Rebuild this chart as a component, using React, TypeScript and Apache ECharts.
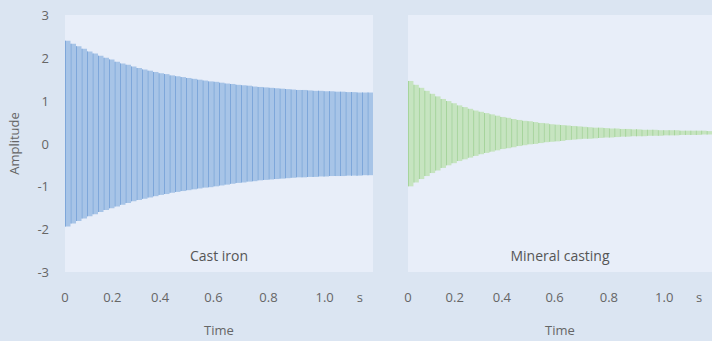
import React, { useEffect, useRef } from "react";
import * as echarts from "echarts";

// Bar slots along time (each bar = one slot)
const SLOTS = 56;

// Cast iron envelope (upper / lower amplitude of each bar)
const castIronHigh = [
  2.40, 2.33, 2.27, 2.21, 2.15, 2.10, 2.05, 2.00, 1.96, 1.91,
  1.87, 1.84, 1.80, 1.76, 1.73, 1.70, 1.67, 1.64, 1.62, 1.59,
  1.57, 1.55, 1.53, 1.51, 1.49, 1.47, 1.45, 1.44, 1.42, 1.40,
  1.39, 1.37, 1.36, 1.35, 1.33, 1.32, 1.31, 1.30, 1.29, 1.28,
  1.27, 1.26, 1.25, 1.25, 1.24, 1.23, 1.23, 1.22, 1.22, 1.21,
  1.21, 1.20, 1.20, 1.19, 1.19, 1.19,
];
const castIronLow = [
  -1.94, -1.87, -1.81, -1.75, -1.70, -1.65, -1.60, -1.55, -1.51, -1.47,
  -1.43, -1.39, -1.35, -1.32, -1.29, -1.26, -1.23, -1.20, -1.18, -1.15,
  -1.13, -1.11, -1.09, -1.07, -1.05, -1.03, -1.02, -1.00, -0.98, -0.96,
  -0.94, -0.92, -0.91, -0.89, -0.88, -0.86, -0.85, -0.84, -0.83, -0.82,
  -0.81, -0.80, -0.79, -0.79, -0.78, -0.78, -0.77, -0.77, -0.76, -0.76,
  -0.76, -0.75, -0.75, -0.75, -0.74, -0.74,
];

// Mineral casting envelope
const mineralHigh = [
  1.46, 1.37, 1.30, 1.23, 1.16, 1.10, 1.04, 0.99, 0.94, 0.89,
  0.85, 0.81, 0.77, 0.74, 0.71, 0.68, 0.65, 0.62, 0.60, 0.57,
  0.55, 0.53, 0.52, 0.50, 0.48, 0.47, 0.45, 0.44, 0.43, 0.42,
  0.41, 0.40, 0.39, 0.38, 0.37, 0.37, 0.36, 0.35, 0.35, 0.34,
  0.34, 0.33, 0.33, 0.32, 0.32, 0.32, 0.31, 0.31, 0.31, 0.31,
  0.30, 0.30, 0.30, 0.30, 0.30, 0.29,
];
const mineralLow = [
  -1.00, -0.91, -0.83, -0.76, -0.69, -0.63, -0.57, -0.51, -0.46, -0.41,
  -0.37, -0.33, -0.29, -0.25, -0.22, -0.19, -0.16, -0.13, -0.11, -0.09,
  -0.06, -0.04, -0.02, -0.01, 0.01, 0.03, 0.04, 0.05, 0.06, 0.08,
  0.09, 0.10, 0.11, 0.11, 0.12, 0.13, 0.14, 0.14, 0.15, 0.16,
  0.16, 0.17, 0.17, 0.17, 0.18, 0.18, 0.18, 0.19, 0.19, 0.19,
  0.20, 0.20, 0.20, 0.20, 0.21, 0.21,
];

// Time axis labels and the bar slot at which each one sits
const xTickLabels = ["0", "0.2", "0.4", "0.6", "0.8", "1.0", "s"];
const xTickSlots = [0, 8.6, 17.3, 27, 37, 47.2, 53.6];

const yTicks = [-3, -2, -1, 0, 1, 2, 3];

const panelTitles = ["Cast iron", "Mineral casting"];

const FONT = "Open Sans";
const TEXT = "#666666";

function makeRender(fill: string, stripe: string) {
  return (params: any, api: any) => {
    const i = api.value(0);
    const lo = api.value(1);
    const hi = api.value(2);
    const p1 = api.coord([i, hi]);
    const p2 = api.coord([i + 1, lo]);
    const w = p2[0] - p1[0];
    const h = p2[1] - p1[1];
    return {
      type: "group",
      children: [
        { type: "rect", shape: { x: p1[0], y: p1[1], width: w, height: h }, style: { fill } },
        { type: "rect", shape: { x: p1[0], y: p1[1], width: 1, height: h }, style: { fill: stripe } },
      ],
    };
  };
}

export default function App() {
  const ref = useRef<HTMLDivElement>(null);
  useEffect(() => {
    if (!ref.current) return;
    const chart = echarts.init(ref.current, null, { renderer: "svg" });
    const xAxisBase = (gridIndex: number) => ({
      type: "value",
      gridIndex,
      min: 0,
      max: SLOTS,
      name: "Time",
      nameLocation: "middle",
      nameGap: 51,
      nameTextStyle: { color: TEXT, fontSize: 13, fontFamily: FONT },
      axisLine: { show: false },
      axisTick: { show: false },
      splitLine: { show: false },
      axisLabel: {
        customValues: xTickSlots,
        formatter: (v: number) => {
          const k = xTickSlots.findIndex((s) => Math.abs(s - v) < 1e-6);
          return k >= 0 ? xTickLabels[k] : "";
        },
        color: TEXT,
        fontSize: 13,
        fontFamily: FONT,
        margin: 18,
        showMinLabel: true,
        showMaxLabel: true,
        hideOverlap: false,
      },
    });
    const yAxisBase = (gridIndex: number, showLabels: boolean) => ({
      type: "value",
      gridIndex,
      min: -3,
      max: 3,
      interval: 1,
      name: showLabels ? "Amplitude" : "",
      nameLocation: "middle",
      nameGap: 45,
      nameTextStyle: { color: TEXT, fontSize: 13, fontFamily: FONT },
      axisLine: { show: false },
      axisTick: { show: false },
      splitLine: { show: false },
      axisLabel: {
        show: showLabels,
        color: TEXT,
        fontSize: 13,
        fontFamily: FONT,
        margin: 16,
        formatter: (v: number) => (yTicks.includes(v) ? String(v) : ""),
      },
    });
    chart.setOption({
      animation: false,
      backgroundColor: "#dbe5f2",
      grid: [
        { left: 65, top: 15, width: 308, height: 257, show: true, backgroundColor: "#e8eef9", borderWidth: 0 },
        { left: 408, top: 15, width: 317, height: 257, show: true, backgroundColor: "#e8eef9", borderWidth: 0 },
      ],
      xAxis: [xAxisBase(0), xAxisBase(1)],
      yAxis: [yAxisBase(0, true), yAxisBase(1, false)],
      graphic: [
        {
          type: "text",
          x: 65 + 308 / 2,
          y: 255,
          style: { text: panelTitles[0], fill: "#555555", fontSize: 14, fontFamily: FONT, textAlign: "center", textVerticalAlign: "middle" },
        },
        {
          type: "text",
          x: 408 + 304 / 2,
          y: 255,
          style: { text: panelTitles[1], fill: "#555555", fontSize: 14, fontFamily: FONT, textAlign: "center", textVerticalAlign: "middle" },
        },
      ],
      series: [
        {
          type: "custom",
          xAxisIndex: 0,
          yAxisIndex: 0,
          clip: true,
          renderItem: makeRender("#a7c4e7", "#7ea7da"),
          data: castIronHigh.map((h, i) => [i, castIronLow[i], h]),
        },
        {
          type: "custom",
          xAxisIndex: 1,
          yAxisIndex: 1,
          clip: true,
          renderItem: makeRender("#c6e4c0", "#a6d49c"),
          data: mineralHigh.map((h, i) => [i, mineralLow[i], h]),
        },
      ],
    });
    return () => chart.dispose();
  }, []);
  return (
    <div
      ref={ref}
      style={{ position: "fixed", left: 0, top: 0, width: 712, height: 341 }}
    />
  );
}
